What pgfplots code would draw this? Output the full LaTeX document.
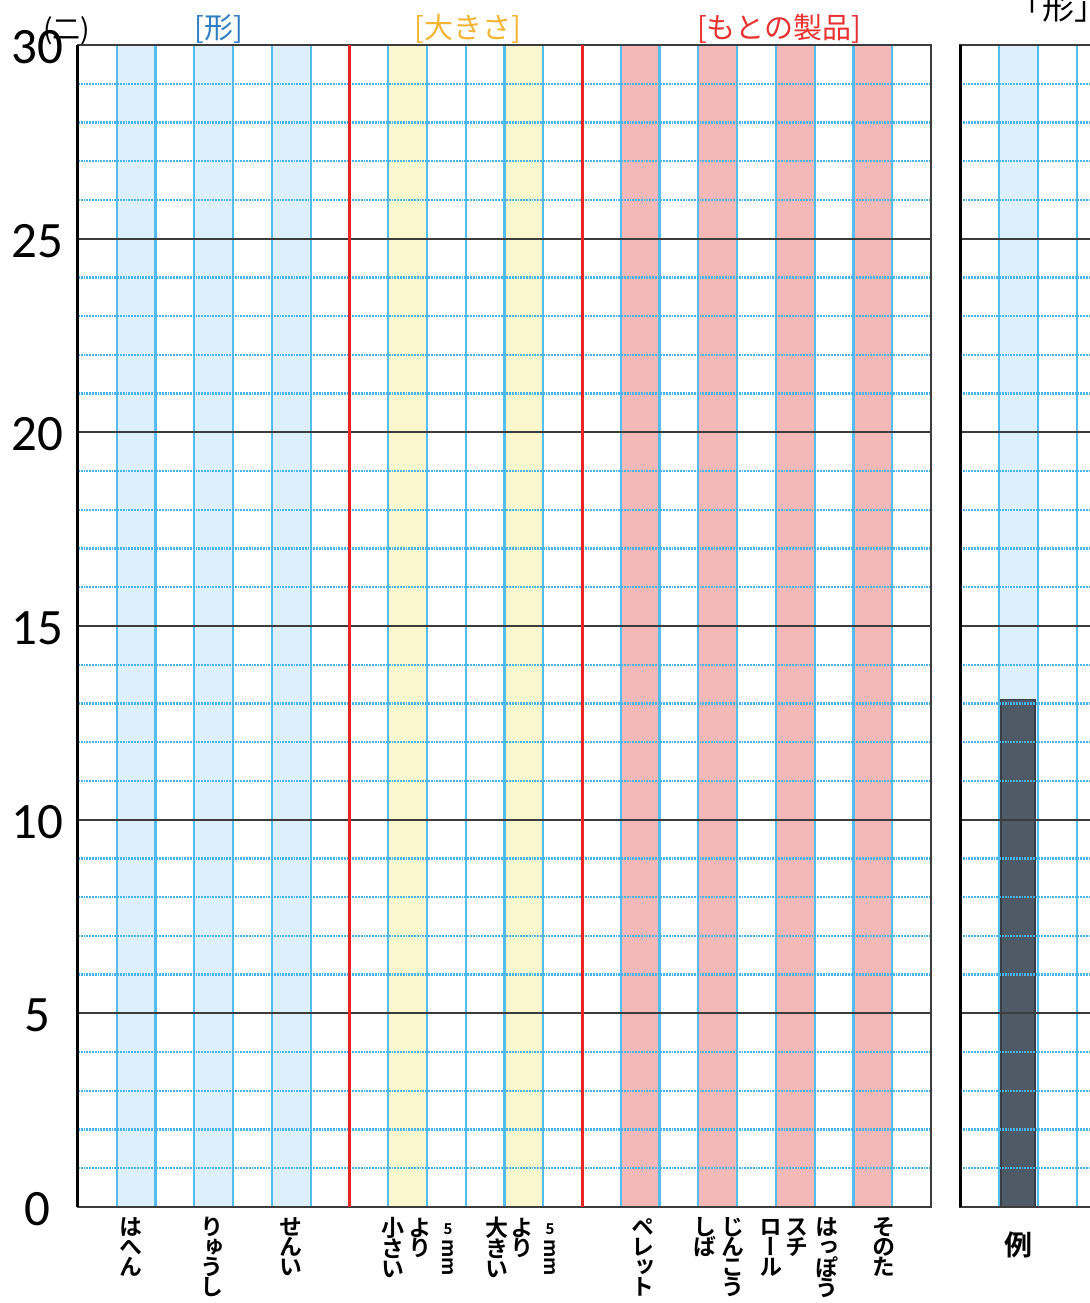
\documentclass[border=0pt]{standalone}
\usepackage{pgfplots}
\pgfplotsset{compat=1.18}
\usepackage{graphicx}
\usepackage{fontspec}
\setmainfont{Carlito}
\newfontfamily\jp{Noto Sans CJK JP}
\newfontfamily\jpv[RawFeature=+vert]{Noto Sans CJK JP Bold}
\newfontfamily\jpb{Noto Sans CJK JP Bold}
\definecolor{shblue}{RGB}{220,239,250}
\definecolor{shyellow}{RGB}{250,246,206}
\definecolor{shpink}{RGB}{245,184,184}
\definecolor{gblue}{RGB}{85,188,238}
\definecolor{gdot}{RGB}{70,180,235}
\definecolor{gmajor}{RGB}{60,60,60}
\definecolor{redline}{RGB}{232,36,36}
\definecolor{barcol}{RGB}{78,90,101}
\definecolor{baredge}{RGB}{55,62,70}
\definecolor{tblue}{RGB}{45,125,195}
\definecolor{torange}{RGB}{242,180,50}
\definecolor{tred}{RGB}{232,50,50}
\makeatletter
\def\vt@loop#1{\ifx\relax#1\else\hbox{\vrule height .81em depth .06em width 0pt\hbox to 1em{\hss#1\hss}}\expandafter\vt@loop\fi}
\newcommand\vt[1]{\vbox{\offinterlineskip\vt@loop#1\relax}}
\makeatother
\newcommand\vfont{\jpv\fontsize{11.5}{11.5}\selectfont}
\newcommand\fivemm{\vbox{\offinterlineskip\hbox to 10pt{\hss\jpb\fontsize{7.5}{7.5}\selectfont 5\hss}\vskip 2.5pt\hbox to 10pt{\hss\rotatebox{-90}{\jpb\fontsize{9.5}{9.5}\selectfont mm}\hss}}}
\pgfplotsset{
  gridpanel/.style={
    scale only axis, height=581pt,
    ymin=0, ymax=30,
    set layers, clip=false,
    major tick length=0pt, minor tick length=0pt,
    ytick={0,5,...,30},
    minor ytick={1,2,3,4,6,7,8,9,11,12,13,14,16,17,18,19,21,22,23,24,26,27,28,29},
    xmajorgrids, ymajorgrids, yminorgrids,
    major x grid style={draw=gblue, line width=1.1pt},
    major y grid style={draw=gmajor, line width=0.85pt},
    minor y grid style={draw=gdot, line width=1.2pt, dash pattern=on 0.9pt off 0.5pt},
    xticklabels={},
    axis line style={draw=gmajor, line width=1pt},
  }
}
\begin{document}
\begin{tikzpicture}
\begin{axis}[gridpanel, at={(0pt,0pt)}, anchor=south west, width=426.5pt,
  xmin=0, xmax=22, xtick={0,...,22},
  /pgf/number format/assume math mode=true,
  yticklabel style={font=\fontsize{25.5}{26}\selectfont, anchor=center, xshift=-20.5pt, yshift=-1pt},
]
\addplot[ybar interval, fill=shblue, draw=none, on layer=axis background] coordinates {(1,30) (2,0) (3,30) (4,0) (5,30) (6,0)};
\addplot[ybar interval, fill=shyellow, draw=none, on layer=axis background] coordinates {(8,30) (9,0) (11,30) (12,0)};
\addplot[ybar interval, fill=shpink, draw=none, on layer=axis background] coordinates {(14,30) (15,0) (16,30) (17,0) (18,30) (19,0) (20,30) (21,0)};
\addplot[draw=redline, line width=1.5pt] coordinates {(7,0) (7,30)};
\addplot[draw=redline, line width=1.5pt] coordinates {(13,0) (13,30)};
\draw[black, line width=1.5pt] (rel axis cs:0,0) -- (rel axis cs:0,1);
\end{axis}
\begin{axis}[gridpanel, at={(441pt,0pt)}, anchor=south west, width=78pt,
  xmin=0, xmax=4, xtick={0,...,4}, yticklabels={},
]
\addplot[ybar interval, fill=shblue, draw=none, on layer=axis background] coordinates {(1,30) (2,0)};
\addplot[fill=barcol, draw=baredge, line width=0.8pt, on layer=axis background] coordinates {(1.05,0) (1.92,0) (1.92,13.1) (1.05,13.1) (1.05,0)};
\draw[black, line width=1.5pt] (rel axis cs:0,0) -- (rel axis cs:0,1);
\end{axis}
% titles
\node[text=tblue, font=\jp\fontsize{14.5}{14.5}\selectfont] at (70.5pt,589pt) {[形]};
\node[text=torange, font=\jp\fontsize{14.5}{14.5}\selectfont] at (195pt,589pt) {[大きさ]};
\node[text=tred, font=\jp\fontsize{14.5}{14.5}\selectfont] at (350.5pt,589pt) {[もとの製品]};
\node[font=\jp\fontsize{14}{14}\selectfont] at (-5.5pt,588pt) {(二)};
\node[font=\jp\fontsize{16}{16}\selectfont] at (490pt,600pt) {「形」};
% category labels (vertical)
\begin{scope}[every node/.style={anchor=north, inner sep=0pt, font=\vfont}]
\node at (26.5pt,-4.5pt) {\vt{はへん}};
\node at (67pt,-4.5pt) {\vt{りゅうし}};
\node at (106.5pt,-4.5pt) {\vt{せんい}};
\node at (157.5pt,-5pt) {\vt{小さい}};
\node at (171pt,-5pt) {\vt{より}};
\node at (185pt,-8pt) {\fivemm};
\node at (209.5pt,-5pt) {\vt{大きい}};
\node at (222pt,-5pt) {\vt{より}};
\node at (236pt,-8pt) {\fivemm};
\node at (282.25pt,-4.5pt) {\vt{ペレット}};
\node at (313.5pt,-4.5pt) {\vt{しば}};
\node at (327.5pt,-4.5pt) {\vt{じんこう}};
\node at (346.5pt,-4.5pt) {\vt{ロール}};
\node at (359.5pt,-4.5pt) {\vt{スチ}};
\node at (374.5pt,-4.5pt) {\vt{はっぽう}};
\node at (403pt,-4.5pt) {\vt{そのた}};
\end{scope}
\node[font=\jpb\fontsize{14}{14}\selectfont] at (470pt,-19pt) {例};
\pgfresetboundingbox
\path[use as bounding box] (-39pt,-48pt) rectangle (505.5pt,603.5pt);
\end{tikzpicture}
\end{document}
